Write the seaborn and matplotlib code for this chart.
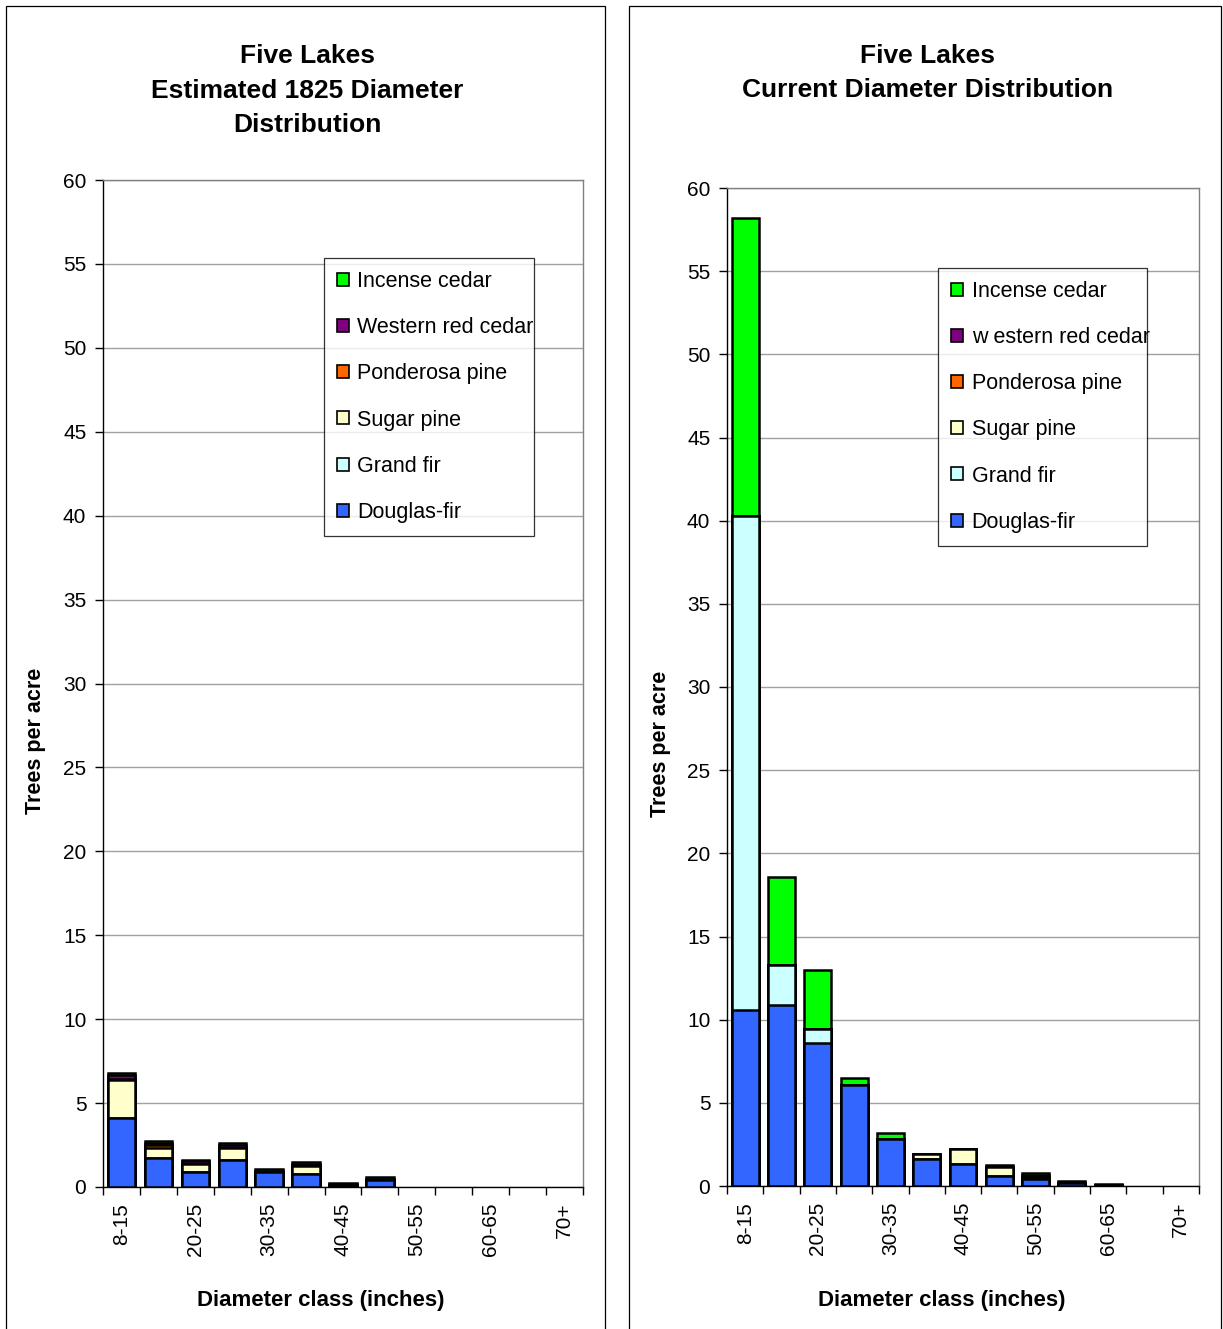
import numpy as np
import pandas as pd
import matplotlib
matplotlib.use("Agg")
import matplotlib.pyplot as plt
from matplotlib.patches import Patch, Rectangle
import seaborn as sns

# Diameter classes (inches)
classes = ["8-15", "15-20", "20-25", "25-30", "30-35", "35-40", "40-45",
           "45-50", "50-55", "55-60", "60-65", "65-70", "70+"]
shown_labels = ["8-15", "20-25", "30-35", "40-45", "50-55", "60-65", "70+"]

species = ["Douglas-fir", "Grand fir", "Sugar pine", "Ponderosa pine",
           "Western red cedar", "Incense cedar"]
colors = ["#3366FF", "#CCFFFF", "#FFFFCC", "#FF6600", "#800080", "#00FF00"]

# Estimated 1825 trees per acre, by species
douglas_1825 = [4.1, 1.75, 0.9, 1.6, 0.9, 0.8, 0.1, 0.42, 0, 0, 0, 0, 0]
grand_1825 = [0, 0, 0, 0, 0, 0, 0, 0, 0, 0, 0, 0, 0]
sugar_1825 = [2.3, 0.6, 0.45, 0.7, 0, 0.45, 0, 0, 0, 0, 0, 0, 0]
ponderosa_1825 = [0.05, 0.15, 0, 0, 0, 0, 0, 0, 0, 0, 0, 0, 0]
redcedar_1825 = [0.22, 0.15, 0.2, 0.2, 0.08, 0.15, 0.06, 0.08, 0, 0, 0, 0, 0]
incense_1825 = [0.13, 0.1, 0.08, 0.1, 0.07, 0.08, 0.06, 0.07, 0, 0, 0, 0, 0]

# Current trees per acre, by species
douglas_now = [10.6, 10.9, 8.6, 6.1, 2.85, 1.65, 1.35, 0.62, 0.4, 0.2, 0.05, 0, 0]
grand_now = [29.7, 2.4, 0.85, 0, 0, 0, 0, 0, 0, 0, 0, 0, 0]
sugar_now = [0, 0, 0, 0, 0, 0.25, 0.9, 0.5, 0.15, 0, 0, 0, 0]
ponderosa_now = [0, 0, 0, 0, 0, 0, 0, 0, 0, 0, 0, 0, 0]
redcedar_now = [0, 0, 0, 0, 0, 0, 0, 0, 0.1, 0, 0, 0, 0]
incense_now = [17.9, 5.3, 3.55, 0.4, 0.35, 0, 0, 0.15, 0.15, 0.1, 0.05, 0, 0]

sns.set_style("white")
plt.rcParams["font.family"] = ["Liberation Sans", "DejaVu Sans"]
for key in ["text.color", "axes.labelcolor", "xtick.color", "ytick.color"]:
    plt.rcParams[key] = "black"

W, H = 1223, 1329
fig = plt.figure(figsize=(W / 100, H / 100), dpi=100)


def fx(px):
    return px / W


def fy(py):
    return 1 - py / H


# Panel frames
for x0, x1 in [(6, 605), (629, 1221)]:
    fig.patches.append(Rectangle((fx(x0), -0.05), fx(x1) - fx(x0), fy(6) + 0.05,
                                 transform=fig.transFigure, fill=False,
                                 edgecolor="black", linewidth=0.9, zorder=0))


def stacked_panel(ax, layers, legend_labels, legend_box, ylab_x, xlab_y):
    stack = np.cumsum(np.array(layers, dtype=float), axis=0)
    # draw the tallest cumulative layer first, then smaller ones on top
    for k in range(len(layers) - 1, -1, -1):
        df = pd.DataFrame({"cls": classes, "tpa": stack[k]})
        df = df[df["tpa"] > 0]
        sns.barplot(data=df, x="cls", y="tpa", order=classes, color=colors[k],
                    saturation=1, width=0.74, edgecolor="black", linewidth=1.8,
                    errorbar=None, ax=ax, zorder=3)
    ax.set_ylim(0, 60)
    ax.set_xlim(-0.5, len(classes) - 0.5)
    ax.set_yticks(np.arange(0, 61, 5))
    ax.tick_params(axis="y", which="major", length=6, width=1, color="black",
                   labelsize=15, pad=6, left=True)
    ax.yaxis.grid(True, color="#a0a0a0", linewidth=1, zorder=0)
    ax.set_axisbelow(True)
    # tick marks at class boundaries, labels at every other class centre
    ax.set_xticks(np.arange(-0.5, len(classes), 1))
    ax.set_xticklabels([])
    ax.tick_params(axis="x", which="major", length=6, width=1, color="black",
                   bottom=True)
    ax.set_xticks([classes.index(c) for c in shown_labels], minor=True)
    ax.set_xticklabels(shown_labels, minor=True, rotation=90)
    ax.tick_params(axis="x", which="minor", length=0, labelsize=15, pad=11.5)
    for side in ["top", "right"]:
        ax.spines[side].set_visible(True)
        ax.spines[side].set_color("#808080")
        ax.spines[side].set_linewidth(1)
    for side in ["left", "bottom"]:
        ax.spines[side].set_color("black")
        ax.spines[side].set_linewidth(1)
    ax.set_ylabel("Trees per acre", fontsize=15.5, fontweight="bold")
    ax.set_xlabel("Diameter class (inches)", fontsize=16, fontweight="bold")
    ax.yaxis.set_label_coords(ylab_x, 0.443)
    ax.xaxis.set_label_coords(0.454, xlab_y)
    ax.xaxis.label.set_verticalalignment("center")

    handles = [Patch(facecolor=colors[k], edgecolor="black", linewidth=1.2,
                     label=legend_labels[k]) for k in range(len(layers) - 1, -1, -1)]
    leg = ax.legend(handles=handles, loc="upper left", bbox_to_anchor=legend_box,
                    mode="expand", borderaxespad=0, fontsize=15.5, frameon=True,
                    fancybox=False, shadow=False, labelspacing=1.17,
                    handlelength=0.56, handleheight=0.56, handletextpad=0.4,
                    borderpad=0.6)
    frame = leg.get_frame()
    frame.set_edgecolor("black")
    frame.set_linewidth(0.9)
    leg.set_zorder(5)
    # long entries are cut off at the legend border
    for t in leg.get_texts():
        t.set_clip_path(frame)


# Left panel: estimated 1825
axL = fig.add_axes([fx(103), fy(1187), fx(583) - fx(103), fy(180) - fy(1187)])
stacked_panel(axL,
              [douglas_1825, grand_1825, sugar_1825, ponderosa_1825,
               redcedar_1825, incense_1825],
              ["Douglas-fir", "Grand fir", "Sugar pine", "Ponderosa pine",
               "Western red cedar", "Incense cedar"],
              (0.460, 0.6435, 0.438, 0.279), -0.119, -0.113)

# Right panel: current
axR = fig.add_axes([fx(727), fy(1186), fx(1199) - fx(727), fy(188) - fy(1186)])
stacked_panel(axR,
              [douglas_now, grand_now, sugar_now, ponderosa_now,
               redcedar_now, incense_now],
              ["Douglas-fir", "Grand fir", "Sugar pine", "Ponderosa pine",
               "w estern red cedar", "Incense cedar"],
              (0.447, 0.639, 0.443, 0.281), -0.118, -0.115)

# Titles
for txt, y in [("Five Lakes", 56), ("Estimated 1825 Diameter", 91),
               ("Distribution", 125)]:
    fig.text(fx(307), fy(y), txt, ha="center", va="center", fontsize=19,
             fontweight="bold")
for txt, y in [("Five Lakes", 56), ("Current Diameter Distribution", 90)]:
    fig.text(fx(928), fy(y), txt, ha="center", va="center", fontsize=19,
             fontweight="bold")

fig.savefig("out.png", dpi=100)
